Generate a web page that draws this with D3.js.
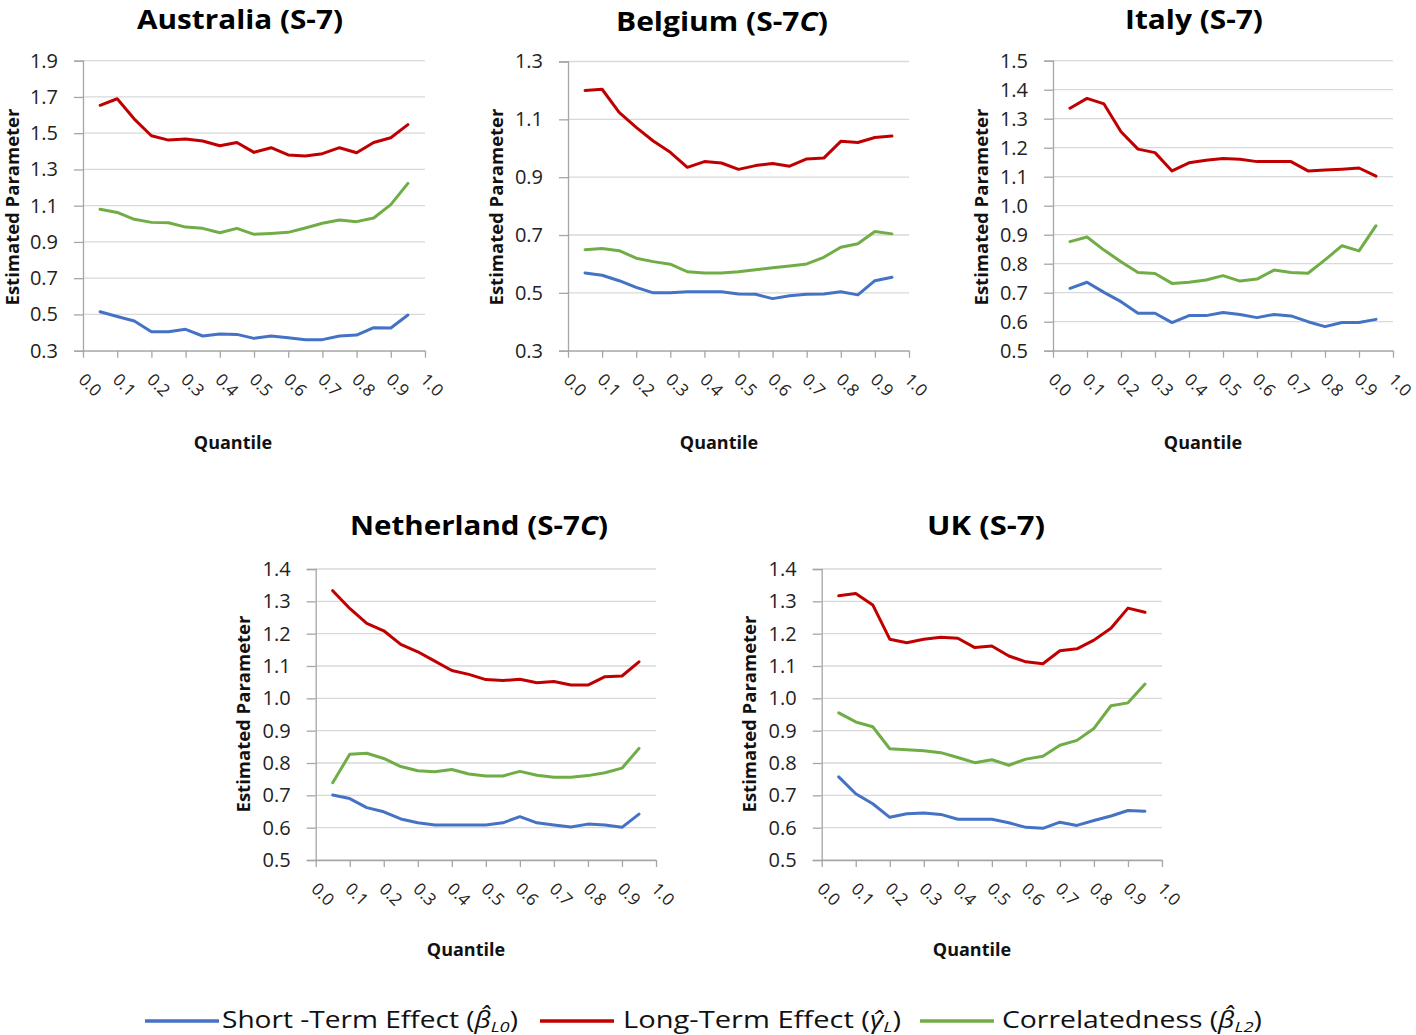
<!DOCTYPE html>
<html><head><meta charset="utf-8">
<script src="https://cdn.jsdelivr.net/npm/d3@7"></script>
<style>body{margin:0;background:#fff}svg{display:block}</style>
</head><body>
<svg id="chart" width="1416" height="1035"></svg>
<script>
// ---------- DATA ----------
const quantiles = [0.05,0.10,0.15,0.20,0.25,0.30,0.35,0.40,0.45,0.50,0.55,0.60,0.65,0.70,0.75,0.80,0.85,0.90,0.95];
const xTickValues = [0.0,0.1,0.2,0.3,0.4,0.5,0.6,0.7,0.8,0.9,1.0];

const seriesNames = ["Short-Term Effect", "Long-Term Effect", "Correlatedness"];

const australiaShort = [0.515,0.489,0.464,0.405,0.405,0.418,0.381,0.392,0.390,0.368,0.381,0.372,0.361,0.361,0.381,0.386,0.427,0.425,0.497];
const australiaLong  = [1.654,1.690,1.578,1.486,1.462,1.468,1.457,1.431,1.449,1.394,1.420,1.380,1.374,1.387,1.420,1.392,1.449,1.475,1.547];
const australiaCorr  = [1.080,1.063,1.025,1.008,1.006,0.982,0.975,0.951,0.975,0.942,0.947,0.953,0.977,1.003,1.021,1.012,1.032,1.106,1.223];
const australiaYTicks = [0.3,0.5,0.7,0.9,1.1,1.3,1.5,1.7,1.9];

const belgiumShort = [0.569,0.561,0.542,0.519,0.500,0.500,0.504,0.504,0.504,0.496,0.495,0.480,0.490,0.495,0.496,0.504,0.493,0.542,0.554];
const belgiumLong  = [1.200,1.204,1.124,1.072,1.025,0.986,0.934,0.954,0.949,0.927,0.940,0.947,0.938,0.963,0.966,1.024,1.020,1.037,1.042];
const belgiumCorr  = [0.649,0.653,0.646,0.620,0.608,0.599,0.573,0.569,0.569,0.573,0.580,0.587,0.593,0.600,0.623,0.658,0.670,0.712,0.704];
const belgiumYTicks = [0.3,0.5,0.7,0.9,1.1,1.3];

const italyShort = [0.715,0.736,0.701,0.669,0.629,0.629,0.597,0.621,0.621,0.632,0.625,0.614,0.625,0.620,0.600,0.583,0.597,0.597,0.608];
const italyLong  = [1.336,1.370,1.351,1.255,1.195,1.183,1.120,1.148,1.157,1.163,1.160,1.152,1.152,1.152,1.120,1.123,1.126,1.130,1.102];
const italyCorr  = [0.876,0.892,0.847,0.807,0.770,0.766,0.732,0.736,0.744,0.759,0.740,0.747,0.778,0.770,0.767,0.813,0.862,0.844,0.931];
const italyYTicks = [0.5,0.6,0.7,0.8,0.9,1.0,1.1,1.2,1.3,1.4,1.5];

const netherlandShort = [0.701,0.690,0.662,0.649,0.627,0.615,0.608,0.608,0.608,0.608,0.615,0.634,0.615,0.608,0.602,0.611,0.608,0.601,0.642];
const netherlandLong  = [1.333,1.278,1.232,1.209,1.167,1.144,1.115,1.086,1.074,1.058,1.055,1.059,1.048,1.052,1.041,1.041,1.067,1.069,1.113];
const netherlandCorr  = [0.739,0.827,0.830,0.814,0.789,0.776,0.773,0.780,0.766,0.760,0.760,0.774,0.762,0.756,0.756,0.761,0.770,0.784,0.845];
const netherlandYTicks = [0.5,0.6,0.7,0.8,0.9,1.0,1.1,1.2,1.3,1.4];

const ukShort = [0.757,0.705,0.674,0.632,0.643,0.645,0.641,0.626,0.626,0.626,0.615,0.601,0.598,0.617,0.607,0.622,0.636,0.653,0.651];
const ukLong  = [1.317,1.324,1.289,1.183,1.172,1.183,1.189,1.186,1.157,1.162,1.131,1.113,1.107,1.147,1.153,1.180,1.217,1.279,1.266];
const ukCorr  = [0.955,0.927,0.912,0.844,0.841,0.838,0.832,0.817,0.801,0.810,0.793,0.812,0.821,0.855,0.870,0.907,0.977,0.986,1.044];
const ukYTicks = [0.5,0.6,0.7,0.8,0.9,1.0,1.1,1.2,1.3,1.4];

// ---------- STYLE / LAYOUT ----------
const colors = ["#4472c4", "#c00000", "#70ad47"];
const fontFam = "'Open Sans', 'Noto Sans', sans-serif";

const panels = [
  {title:["Australia (S-7", ")"], italicC:false, series:[australiaShort,australiaLong,australiaCorr], yTicks:australiaYTicks,
   x0:83, x1:425, yTop:60.7, yBot:350.7, tx:240, ty:29, tw:206, qx:233, qy:449, px:11, py:207},
  {title:["Belgium (S-7", ")"], italicC:true, series:[belgiumShort,belgiumLong,belgiumCorr], yTicks:belgiumYTicks,
   x0:568, x1:909, yTop:61.5, yBot:350.7, tx:722, ty:31, tw:212, qx:719, qy:449, px:495, py:207},
  {title:["Italy (S-7", ")"], italicC:false, series:[italyShort,italyLong,italyCorr], yTicks:italyYTicks,
   x0:1053, x1:1393, yTop:60.7, yBot:350.7, tx:1194, ty:29, tw:138, qx:1203, qy:449, px:980, py:207},
  {title:["Netherland (S-7", ")"], italicC:true, series:[netherlandShort,netherlandLong,netherlandCorr], yTicks:netherlandYTicks,
   x0:315.7, x1:656, yTop:569, yBot:860, tx:479, ty:535, tw:258, qx:466, qy:956, px:242, py:714},
  {title:["UK (S-7", ")"], italicC:false, series:[ukShort,ukLong,ukCorr], yTicks:ukYTicks,
   x0:821.7, x1:1162, yTop:569, yBot:860, tx:986, ty:535, tw:118, qx:972, qy:956, px:748, py:714}
];

const svg = d3.select("#chart");

panels.forEach(p => {
  const g = svg.append("g");
  const yExt = d3.extent(p.yTicks);
  const x = d3.scaleLinear().domain([0,1]).range([p.x0, p.x1]);
  const y = d3.scaleLinear().domain(yExt).range([p.yBot, p.yTop]);

  // gridlines
  g.append("g").selectAll("line").data(p.yTicks).join("line")
    .attr("x1", p.x0).attr("x2", p.x1)
    .attr("y1", d => y(d)).attr("y2", d => y(d))
    .attr("stroke", "#d9d9d9").attr("stroke-width", 1.3);

  // y axis
  const yAxis = d3.axisLeft(y).tickValues(p.yTicks).tickFormat(d3.format(".1f")).tickSize(9).tickPadding(16);
  const ya = g.append("g").attr("transform", `translate(${p.x0},0)`).call(yAxis);
  ya.select(".domain").attr("stroke", "#a6a6a6").attr("stroke-width", 1.3);
  ya.selectAll(".tick line").attr("stroke", "#a6a6a6").attr("stroke-width", 1.3);
  ya.selectAll(".tick text").attr("font-family", fontFam).attr("font-size", 20).attr("fill", "#222");

  // x axis
  const xAxis = d3.axisBottom(x).tickValues(xTickValues).tickFormat(d3.format(".1f")).tickSize(7).tickSizeOuter(0);
  const xa = g.append("g").attr("transform", `translate(0,${p.yBot})`).call(xAxis);
  xa.select(".domain").attr("stroke", "#a6a6a6").attr("stroke-width", 1.3);
  xa.selectAll(".tick line").attr("stroke", "#a6a6a6").attr("stroke-width", 1.3);
  xa.selectAll(".tick text")
    .attr("font-family", fontFam).attr("font-size", 17).attr("fill", "#222")
    .attr("text-anchor", "start").attr("dy", null).attr("y", 0).attr("x", 0)
    .attr("transform", "translate(-6,30) rotate(45)");

  // lines
  const line = d3.line().x((d,i) => x(quantiles[i])).y(d => y(d));
  p.series.forEach((s, k) => {
    g.append("path").datum(s)
      .attr("d", line).attr("fill", "none")
      .attr("stroke", colors[k]).attr("stroke-width", 3)
      .attr("stroke-linejoin", "round").attr("stroke-linecap", "round");
  });

  // title
  const t = g.append("text").attr("x", p.tx).attr("y", p.ty)
    .attr("text-anchor", "middle").attr("font-family", fontFam)
    .attr("font-weight", "bold").attr("font-size", 27).attr("fill", "#000")
    .attr("textLength", p.tw).attr("lengthAdjust", "spacingAndGlyphs");
  t.append("tspan").text(p.title[0]);
  if (p.italicC) t.append("tspan").attr("font-style", "italic").text("C");
  t.append("tspan").text(p.title[1]);

  // axis titles
  g.append("text").attr("x", p.qx).attr("y", p.qy).attr("text-anchor", "middle")
    .attr("font-family", fontFam).attr("font-weight", "bold").attr("font-size", 18).attr("fill", "#111")
    .text("Quantile");
  g.append("text").attr("transform", `translate(${p.px},${p.py}) rotate(-90)`)
    .attr("text-anchor", "middle").attr("dominant-baseline", "central")
    .attr("font-family", fontFam).attr("font-weight", "bold").attr("font-size", 18.5).attr("fill", "#111")
    .text("Estimated Parameter");
});

// ---------- LEGEND ----------
const legendItems = [
  {lx:145, tx:222, tw:296, label:"Short -Term Effect (", sym:"β̂", sub:"L0"},
  {lx:540, tx:623, tw:278, label:"Long-Term Effect (", sym:"γ̂", sub:"L"},
  {lx:920, tx:1002, tw:260, label:"Correlatedness (", sym:"β̂", sub:"L2"}
];
const lg = svg.append("g");
legendItems.forEach((it, k) => {
  lg.append("line").attr("x1", it.lx).attr("x2", it.lx + 74)
    .attr("y1", 1021).attr("y2", 1021)
    .attr("stroke", colors[k]).attr("stroke-width", 3.5);
  const t = lg.append("text").attr("x", it.tx).attr("y", 1028)
    .attr("font-family", fontFam).attr("font-size", 23).attr("fill", "#111")
    .attr("textLength", it.tw).attr("lengthAdjust", "spacingAndGlyphs");
  t.append("tspan").text(it.label);
  t.append("tspan").attr("font-style", "italic").text(it.sym);
  t.append("tspan").attr("font-style", "italic").attr("font-size", 15).attr("dy", 4).text(it.sub);
  t.append("tspan").attr("dy", -4).text(")");
});
</script>
</body></html>
